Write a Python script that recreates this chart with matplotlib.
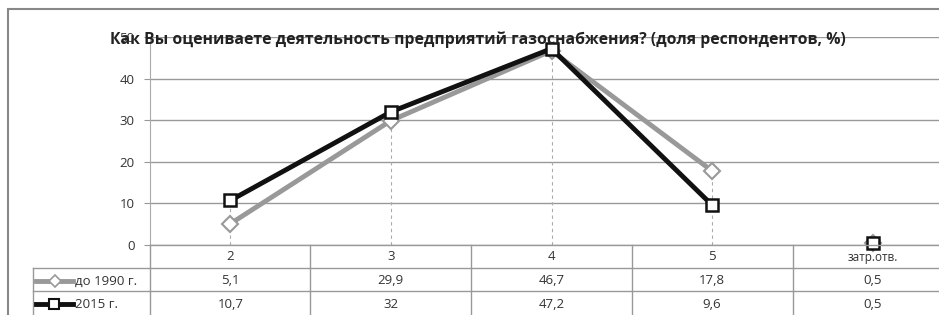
import matplotlib
matplotlib.use("Agg")
import matplotlib.pyplot as plt
from matplotlib.lines import Line2D
from matplotlib.patches import Rectangle

categories = ["2", "3", "4", "5", "затр.отв."]
series_names = ["до 1990 г.", "2015 г."]
before_1990 = [5.1, 29.9, 46.7, 17.8, 0.5]
year_2015 = [10.7, 32, 47.2, 9.6, 0.5]
before_1990_labels = ["5,1", "29,9", "46,7", "17,8", "0,5"]
year_2015_labels = ["10,7", "32", "47,2", "9,6", "0,5"]
yticks = [0, 10, 20, 30, 40, 50]
title = "Как Вы оцениваете деятельность предприятий газоснабжения? (доля респондентов, %)"

W, H = 939, 315
fig = plt.figure(figsize=(W / 100, H / 100), dpi=100)
plt.rcParams['font.family'] = ['Open Sans', 'DejaVu Sans']

def fx(px):
    return px / W

def fy(py):
    return 1 - py / H

ax_left, ax_right, ax_top, ax_bottom = 150, 953, 37, 245
ax = fig.add_axes([fx(ax_left), fy(ax_bottom), fx(ax_right - ax_left), fy(ax_top) - fy(ax_bottom)])
ax.set_xlim(-0.5, len(categories) - 0.5)
ax.set_ylim(0, 50)
ax.set_yticks(yticks)
ax.set_yticklabels([str(t) for t in yticks], fontsize=9.5, color="#333333")
ax.tick_params(axis="y", length=4, color="#999999", pad=7)
ax.set_xticks([])
for s in ["top", "right", "bottom"]:
    ax.spines[s].set_visible(False)
ax.spines["left"].set_color("#aaaaaa")
ax.grid(axis="y", color="#999999", linewidth=1)
ax.set_axisbelow(True)

xs = list(range(len(categories)))
n_line = 4
# drop lines
for i in range(n_line):
    top = max(before_1990[i], year_2015[i])
    ax.plot([i, i], [0, top], color="#aaaaaa", linestyle=(0, (3, 3)), linewidth=0.8, zorder=1)

ax.plot(xs[:n_line], before_1990[:n_line], color="#999999", linewidth=3.5, zorder=3,
        marker="D", markersize=8, markerfacecolor="white", markeredgecolor="#999999", markeredgewidth=1.5)
ax.plot(xs[:n_line], year_2015[:n_line], color="#111111", linewidth=3.5, zorder=4,
        marker="s", markersize=8.5, markerfacecolor="white", markeredgecolor="#111111", markeredgewidth=1.8)
ax.plot([xs[4]], [before_1990[4]], linestyle="none", marker="D", markersize=8,
        markerfacecolor="white", markeredgecolor="#999999", markeredgewidth=1.5, zorder=3, clip_on=False)
ax.plot([xs[4]], [year_2015[4]], linestyle="none", marker="s", markersize=8.5,
        markerfacecolor="white", markeredgecolor="#111111", markeredgewidth=1.8, zorder=4, clip_on=False)

# title
fig.text(fx(478), fy(40), title, ha="center", va="center", fontsize=11.3, fontweight="bold", color="#222222")

# outer frame
fig.add_artist(Rectangle((fx(8), fy(H + 20)), fx(W), fy(9) - fy(H + 20), transform=fig.transFigure,
                         fill=False, edgecolor="#888888", linewidth=1.5))

# table
line_col = "#999999"

def hline(y, x0, x1):
    fig.add_artist(Line2D([fx(x0), fx(x1)], [fy(y), fy(y)], color=line_col, linewidth=1))

def vline(x, y0, y1):
    fig.add_artist(Line2D([fx(x), fx(x)], [fy(y0), fy(y1)], color=line_col, linewidth=1))

col_edges = [310, 471, 632, 793]
hline(245, 150, W)
hline(268, 33, W)
hline(291, 33, W)
vline(33, 268, 315)
vline(150, 245, 315)
for x in col_edges:
    vline(x, 245, 315)

centers = [ax.transData.transform((i, 0))[0] for i in xs]
for i, c in enumerate(categories):
    cx = centers[i] / fig.dpi / fig.get_size_inches()[0]
    fig.text(cx, fy(257), c, ha="center", va="center", fontsize=9.5 if i < 4 else 8.5, color="#333333")
    fig.text(cx, fy(281), before_1990_labels[i], ha="center", va="center", fontsize=9.5, color="#333333")
    fig.text(cx, fy(304), year_2015_labels[i], ha="center", va="center", fontsize=9.5, color="#333333")

# legend keys
fig.add_artist(Line2D([fx(36), fx(73)], [fy(281), fy(281)], color="#999999", linewidth=3.5))
fig.add_artist(Line2D([fx(55)], [fy(281)], marker="D", markersize=6, markerfacecolor="white",
                      markeredgecolor="#999999", markeredgewidth=1.2, linestyle="none"))
fig.add_artist(Line2D([fx(36), fx(73)], [fy(304), fy(304)], color="#111111", linewidth=3.5))
fig.add_artist(Line2D([fx(54)], [fy(304)], marker="s", markersize=7, markerfacecolor="white",
                      markeredgecolor="#111111", markeredgewidth=1.5, linestyle="none"))
fig.text(fx(75), fy(281), series_names[0], ha="left", va="center", fontsize=9.5, color="#333333")
fig.text(fx(75), fy(304), series_names[1], ha="left", va="center", fontsize=9.5, color="#333333")

fig.savefig("out.png", dpi=100)
